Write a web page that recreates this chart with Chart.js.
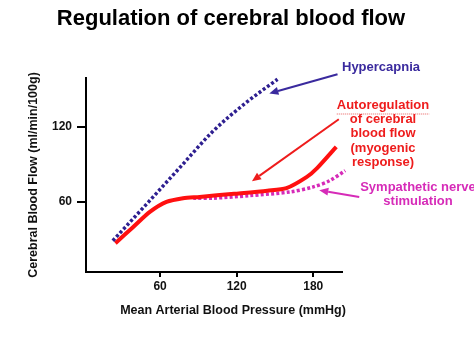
<!DOCTYPE html>
<html>
<head>
<meta charset="utf-8">
<script src="https://cdn.jsdelivr.net/npm/chart.js@4"></script>
<style>
  html, body { margin: 0; padding: 0; background: #fff; }
  canvas { display: block; }
</style>
</head>
<body>
<canvas id="Chart1" width="474" height="343"></canvas>
<script>
// values (mmHg -> ml/min/100g)
var hyperX = [23, 51, 76, 101, 127, 152];
var hyperY = [29, 60, 88, 116, 139, 158];

var autoX = [25, 39, 52, 65, 78, 91, 118, 144, 159, 175, 183, 198];
var autoY = [27, 40, 52, 60, 63, 64, 66.5, 69, 71, 80, 87, 104];

var sympX = [86, 102, 130, 162, 180, 193, 205];
var sympY = [63, 63, 65, 68, 72, 77, 85];

var xTicks = [60, 120, 180];
var yTicks = [60, 120];

function pts(xs, ys) {
  return xs.map(function (x, i) { return { x: x, y: ys[i] }; });
}

var FONT = '"Liberation Sans", Arial, sans-serif';

// arrows in data units: [fromX, fromY, toX, toY, colour]
var arrows = [
  [199, 162, 145.6, 146.7, '#3a2a9e'],
  [200, 126, 132, 76.6, '#ee1c1c'],
  [216, 64, 184.7, 69.4, '#d62bb8']
];

var notes = {
  id: 'notes',
  afterDraw: function (chart) {
    var ctx = chart.ctx;
    var xs = chart.scales.x, ys = chart.scales.y;
    ctx.save();
    // title
    ctx.fillStyle = '#000';
    ctx.font = 'bold 22px ' + FONT;
    ctx.textAlign = 'center';
    ctx.textBaseline = 'alphabetic';
    ctx.fillText('Regulation of cerebral blood flow', 231, 25);

    // x axis title (sits right of the axis centre in the original)
    ctx.fillStyle = '#111';
    ctx.font = 'bold 12.5px ' + FONT;
    ctx.textBaseline = 'middle';
    ctx.fillText('Mean Arterial Blood Pressure (mmHg)', 233, 311);

    // arrows
    arrows.forEach(function (a) {
      var x1 = xs.getPixelForValue(a[0]), y1 = ys.getPixelForValue(a[1]);
      var x2 = xs.getPixelForValue(a[2]), y2 = ys.getPixelForValue(a[3]);
      var ang = Math.atan2(y2 - y1, x2 - x1);
      var hl = 9, hw = 4;
      ctx.strokeStyle = a[4];
      ctx.fillStyle = a[4];
      ctx.lineWidth = 2;
      ctx.beginPath();
      ctx.moveTo(x1, y1);
      ctx.lineTo(x2 - Math.cos(ang) * hl, y2 - Math.sin(ang) * hl);
      ctx.stroke();
      ctx.beginPath();
      ctx.moveTo(x2, y2);
      ctx.lineTo(x2 - Math.cos(ang) * hl - Math.sin(ang) * hw, y2 - Math.sin(ang) * hl + Math.cos(ang) * hw);
      ctx.lineTo(x2 - Math.cos(ang) * hl + Math.sin(ang) * hw, y2 - Math.sin(ang) * hl - Math.cos(ang) * hw);
      ctx.closePath();
      ctx.fill();
    });

    // labels
    ctx.font = 'bold 13px ' + FONT;
    ctx.textBaseline = 'middle';
    ctx.textAlign = 'left';
    ctx.fillStyle = '#3a2a9e';
    ctx.fillText('Hypercapnia', 342, 67);

    ctx.textAlign = 'center';
    ctx.fillStyle = '#ee1c1c';
    var red = ['Autoregulation', 'of cerebral', 'blood flow', '(myogenic', 'response)'];
    red.forEach(function (t, i) { ctx.fillText(t, 383, 105.5 + i * 14.2); });
    // spell-check style dotted underline
    var w = ctx.measureText(red[0]).width;
    ctx.strokeStyle = '#e86060';
    ctx.lineWidth = 1;
    ctx.setLineDash([1, 1]);
    ctx.beginPath();
    ctx.moveTo(383 - w / 2, 114);
    ctx.lineTo(383 + w / 2, 114);
    ctx.stroke();
    ctx.setLineDash([]);

    ctx.fillStyle = '#d62bb8';
    ctx.fillText('Sympathetic nerve', 418, 187.5);
    ctx.fillText('stimulation', 418, 201.7);
    ctx.restore();
  }
};

var ctx1 = document.getElementById('Chart1').getContext('2d');

var Chart1 = new Chart(ctx1, {
  type: 'line',
  data: {
    datasets: [{
      label: 'Hypercapnia',
      data: pts(hyperX, hyperY),
      borderColor: '#2e1f90',
      borderWidth: 3.5,
      borderDash: [3, 2.2],
      borderCapStyle: 'butt',
      cubicInterpolationMode: 'monotone',
      pointRadius: 0,
      clip: false
    }, {
      label: 'Autoregulation',
      data: pts(autoX, autoY),
      borderColor: '#ff1010',
      borderWidth: 4,
      tension: 0.25,
      pointRadius: 0,
      clip: false
    }, {
      label: 'Sympathetic nerve stimulation',
      data: pts(sympX, sympY),
      borderColor: '#d62bb8',
      borderWidth: 3.5,
      borderDash: [3, 2.2],
      borderCapStyle: 'butt',
      tension: 0.3,
      pointRadius: 0,
      clip: false
    }]
  },
  options: {
    responsive: false,
    animation: false,
    devicePixelRatio: 1,
    layout: { padding: { top: 78, right: 132, left: 0, bottom: 0 } },
    plugins: {
      legend: { display: false },
      tooltip: { enabled: false }
    },
    scales: {
      x: {
        type: 'linear',
        min: 2,
        max: 202.5,
        afterFit: function (s) { s.height = 71; },
        afterBuildTicks: function (s) { s.ticks = xTicks.map(function (v) { return { value: v }; }); },
        grid: { drawOnChartArea: false, drawTicks: true, tickLength: 5, color: '#000', lineWidth: 2 },
        border: { display: true, color: '#000', width: 2 },
        ticks: { color: '#111', padding: 2, font: { family: FONT, size: 12, weight: 'bold' } },
        title: { display: false }
      },
      y: {
        type: 'linear',
        min: 4,
        max: 159,
        afterFit: function (s) { s.width = 86; },
        afterBuildTicks: function (s) { s.ticks = yTicks.map(function (v) { return { value: v }; }); },
        grid: { drawOnChartArea: false, drawTicks: true, tickLength: 9, color: '#000', lineWidth: 2 },
        border: { display: true, color: '#000', width: 2 },
        ticks: { color: '#111', padding: 5, font: { family: FONT, size: 12, weight: 'bold' } },
        title: {
          display: true,
          text: 'Cerebral Blood Flow (ml/min/100g)',
          color: '#111',
          padding: { top: 26, bottom: 0 },
          font: { family: FONT, size: 12.5, weight: 'bold' }
        }
      }
    }
  },
  plugins: [notes]
});
</script>
</body>
</html>
